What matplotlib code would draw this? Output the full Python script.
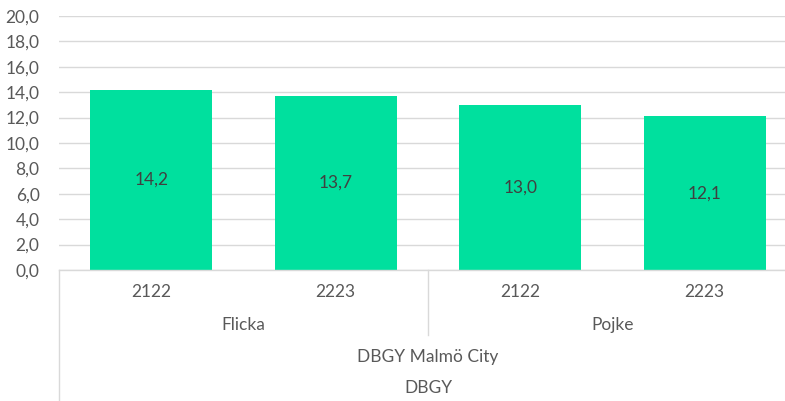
import matplotlib.pyplot as plt
import matplotlib.transforms as mtransforms

# data
years = ['2122', '2223', '2122', '2223']
genders = ['Flicka', 'Pojke']
school = 'DBGY Malmö City'
group = 'DBGY'
values = [14.2, 13.7, 13.0, 12.1]

bar_color = '#00E09E'
text_color = '#595959'
grid_color = '#D9D9D9'

plt.rcParams['font.family'] = ['Lato', 'DejaVu Sans']

W, H = 785, 401
fig = plt.figure(figsize=(W / 100, H / 100), dpi=100)
# plot area runs a little past the right edge of the image, like the source
ax = fig.add_axes([59 / W, 1 - 270 / H, (797 - 59) / W, (270 - 16) / H])

x = list(range(len(values)))
ax.bar(x, values, width=0.66, color=bar_color, zorder=2)
for xi, v in zip(x, values):
    ax.text(xi, v / 2, f'{v:.1f}'.replace('.', ','), ha='center', va='center',
            fontsize=12.5, color='#404040', zorder=3)

ax.set_xlim(-0.5, len(values) - 0.5)
ax.set_ylim(0, 20)
ax.set_yticks(range(0, 21, 2))
ax.set_yticklabels([f'{t:.1f}'.replace('.', ',') for t in range(0, 21, 2)])
ax.tick_params(axis='y', length=0, labelsize=12.5, labelcolor=text_color, pad=14)
ax.set_xticks([])
ax.grid(axis='y', color=grid_color, linewidth=1, zorder=0)
for s in ['top', 'right', 'left']:
    ax.spines[s].set_visible(False)
ax.spines['bottom'].set_color(grid_color)
ax.spines['bottom'].set_linewidth(1)

# multi-level category axis
tr = mtransforms.blended_transform_factory(ax.transData, fig.transFigure)
fy = lambda py: 1 - py / H

for xi, lab in zip(x, years):
    fig.text(xi, fy(292), lab, transform=tr, ha='center', va='center',
             fontsize=12.5, color=text_color)
for i, g in enumerate(genders):
    fig.text(2 * i + 0.5, fy(325), g, transform=tr, ha='center', va='center',
             fontsize=12.5, color=text_color)
fig.text(1.5, fy(357), school, transform=tr, ha='center', va='center',
         fontsize=12.5, color=text_color)
fig.text(1.5, fy(388), group, transform=tr, ha='center', va='center',
         fontsize=12.5, color=text_color)

# separators
fig.add_artist(plt.Line2D([-0.5, -0.5], [fy(270), 0], transform=tr,
                          color=grid_color, linewidth=1))
fig.add_artist(plt.Line2D([1.5, 1.5], [fy(270), fy(335)], transform=tr,
                          color=grid_color, linewidth=1))

fig.savefig('out.png', dpi=100)
